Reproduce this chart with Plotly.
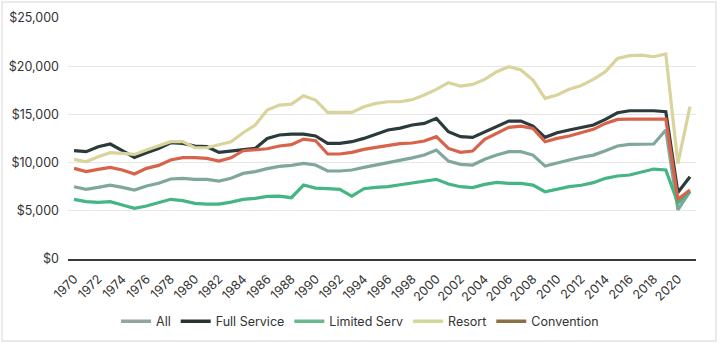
import plotly.graph_objects as go

years = list(range(1970, 2022))
tick_years = list(range(1970, 2021, 2))

full_service = [11240, 11130, 11650, 11930, 11240, 10540, 11030, 11470, 12060, 11990,
                11720, 11650, 11060, 11200, 11300, 11470, 12510, 12860, 12960, 12960,
                12760, 11990, 11990, 12170, 12510, 12960, 13380, 13580, 13900, 14070,
                14590, 13200, 12690, 12620, 13200, 13790, 14310, 14310, 13790, 12620,
                13100, 13380, 13600, 13900, 14480, 15170, 15380, 15380, 15380, 15280,
                6900, 8540]
resort = [10340, 10090, 10610, 11030, 10960, 10850, 11300, 11720, 12170, 12170,
          11540, 11540, 11820, 12170, 13100, 13900, 15450, 15970, 16070, 16940,
          16490, 15210, 15210, 15210, 15800, 16140, 16310, 16310, 16530, 17010,
          17600, 18290, 17940, 18110, 18630, 19430, 19940, 19600, 18560, 16660,
          17010, 17600, 18000, 18630, 19430, 20810, 21090, 21150, 20980, 21260,
          9900, 15800]
convention = [9400, 9060, 9300, 9510, 9230, 8810, 9400, 9710, 10270, 10510,
              10510, 10440, 10160, 10500, 11230, 11300, 11440, 11720, 11860, 12440,
              12270, 10890, 10890, 11060, 11370, 11580, 11790, 11960, 12030, 12240,
              12690, 11470, 11060, 11200, 12410, 13030, 13650, 13790, 13550, 12170,
              12510, 12760, 13070, 13450, 14070, 14480, 14520, 14520, 14520, 14520,
              6200, 7160]
all_hotels = [7500, 7220, 7430, 7670, 7430, 7160, 7570, 7850, 8300, 8370,
              8260, 8260, 8090, 8370, 8880, 9060, 9370, 9610, 9710, 9920,
              9750, 9130, 9130, 9230, 9510, 9750, 9990, 10200, 10490, 10780,
              11300, 10160, 9820, 9750, 10340, 10780, 11130, 11130, 10780, 9640,
              9990, 10270, 10550, 10780, 11230, 11720, 11890, 11930, 11930, 13380,
              5100, 6980]
limited = [6190, 5950, 5880, 5950, 5600, 5250, 5500, 5840, 6190, 6050,
           5770, 5700, 5700, 5900, 6190, 6290, 6500, 6530, 6360, 7670,
           7360, 7290, 7220, 6530, 7290, 7430, 7500, 7700, 7880, 8120,
           8260, 7780, 7500, 7400, 7740, 7950, 7850, 7850, 7670, 6980,
           7220, 7500, 7650, 7920, 8370, 8610, 8710, 9060, 9330, 9230,
           5800, 7000]

series_names = ["All", "Full Service", "Limited Serv", "Resort", "Convention"]
series_values = [all_hotels, full_service, limited, resort, convention]
line_colors = ["#7fa89a", "#2b3a3a", "#45b583", "#d8d49b", "#d9634a"]
legend_colors = ["#94a59e", "#2b3232", "#6ab98a", "#cfd99a", "#8b7045"]

fig = go.Figure()
for name, vals, col in zip(series_names, series_values, line_colors):
    fig.add_trace(go.Scatter(x=years, y=vals, mode="lines", name=name,
                             line=dict(color=col, width=3.2), showlegend=False,
                             hoverinfo="skip"))
for name, col in zip(series_names, legend_colors):
    fig.add_trace(go.Scatter(x=[None], y=[None], mode="lines", name=name,
                             line=dict(color=col, width=3.5), showlegend=True))

fig.update_layout(
    width=720, height=344,
    margin=dict(l=68, r=24, t=18, b=85, autoexpand=False),
    paper_bgcolor="white", plot_bgcolor="white",
    font=dict(family="Inter, Open Sans, sans-serif", size=12, color="#333333"),
    showlegend=True,
    legend=dict(orientation="h", x=0.465, xanchor="center", y=-0.26, yanchor="middle",
                font=dict(size=12.5, color="#333333"), itemwidth=30,
                bgcolor="rgba(0,0,0,0)"),
    xaxis=dict(range=[1969.5, 2021.5], tickmode="array", tickvals=tick_years,
               ticktext=[str(y) for y in tick_years], tickangle=-45,
               tickfont=dict(size=12.5, color="#333333"), showgrid=False,
               showline=True, linecolor="#3a3a3a", linewidth=1.5, zeroline=False,
               ticks="", ticklabelstandoff=6, automargin=False),
    yaxis=dict(range=[0, 25000], dtick=5000, tickprefix="$", tickformat=",",
               tickfont=dict(size=12.5, color="#333333"), gridcolor="#e6e6e6",
               gridwidth=1, zeroline=False, showline=False, ticklabelstandoff=8,
               automargin=False),
    shapes=[dict(type="rect", xref="paper", yref="paper",
                 x0=-0.105, x1=1.0318, y0=-0.340, y1=1.066,
                 line=dict(color="#e4e4e4", width=1.5), layer="below")],
)

fig.write_html("out.html")
